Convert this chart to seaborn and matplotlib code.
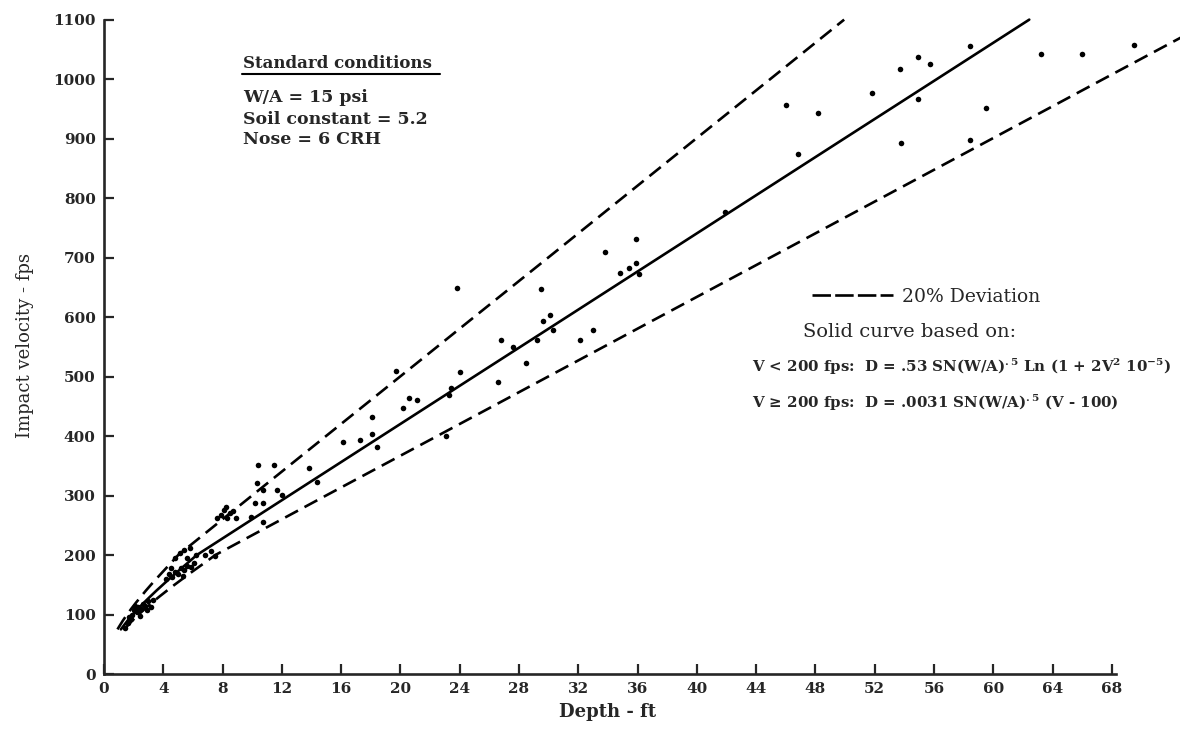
import matplotlib
matplotlib.use("Agg")
import matplotlib.pyplot as plt
import seaborn as sns
import pandas as pd
from matplotlib.lines import Line2D

# curves (velocity fps -> depth ft)
curve_v = [75, 80, 90, 100, 110, 120, 130, 140, 150, 160, 170, 180, 190, 200,
           300, 400, 500, 600, 700, 800, 900, 1000, 1100]
solid_d = [1.14, 1.29, 1.60, 1.95, 2.31, 2.70, 3.11, 3.53, 3.97, 4.41, 4.87, 5.33, 5.80, 6.26,
           12.49, 18.73, 24.97, 31.22, 37.46, 43.70, 49.94, 56.19, 62.43]
upper_d = [0.91, 1.03, 1.28, 1.56, 1.85, 2.16, 2.49, 2.82, 3.17, 3.53, 3.90, 4.27, 4.64, 5.01,
           9.99, 14.98, 19.98, 24.97, 29.97, 34.96, 39.95, 44.95, 49.94]
lower_d = [1.37, 1.54, 1.92, 2.34, 2.78, 3.24, 3.73, 4.24, 4.76, 5.30, 5.84, 6.40, 6.96, 7.51,
           14.98, 22.48, 29.97, 37.46, 44.95, 52.44, 59.93, 67.42, 74.92]

# test points
pt_depth = [1.4, 1.6, 1.8, 1.9, 2.0, 2.2, 2.3, 2.5, 2.6, 2.8, 3.0, 3.2, 2.4, 1.7, 2.9, 3.3, 2.1,
            4.2, 4.4, 4.6, 4.8, 5.0, 5.2, 5.4, 5.6, 5.9, 4.5, 5.3, 6.1,
            4.8, 5.1, 5.4, 5.8, 6.2, 5.6, 6.8, 7.2, 7.5,
            7.6, 7.9, 8.1, 8.3, 8.5, 8.7, 8.9, 8.2,
            10.4, 11.5, 10.3, 10.7, 10.2, 10.7, 11.7, 12.0, 9.9, 10.7,
            13.8, 14.4, 16.1, 17.3, 18.1, 18.1, 18.4, 19.7, 20.2, 20.6, 21.1, 23.1, 23.3, 23.4,
            23.8, 24.0, 26.6, 26.8, 27.6, 28.5, 29.2, 29.6, 29.5, 30.1, 30.3, 32.1, 33.0, 33.8,
            34.8, 35.4, 35.9, 35.9, 36.1,
            41.9, 46.0, 46.8, 48.2, 51.8, 53.7, 54.9, 55.7, 54.9, 53.8, 58.4, 59.5, 58.4,
            63.2, 66.0, 69.5]
pt_vel = [78, 85, 92, 100, 108, 104, 112, 110, 118, 115, 122, 112, 98, 95, 108, 125, 115,
          160, 168, 163, 172, 168, 178, 175, 182, 180, 178, 165, 186,
          195, 203, 208, 212, 200, 195, 200, 207, 198,
          262, 268, 276, 262, 270, 274, 262, 281,
          351, 351, 321, 309, 287, 287, 309, 301, 264, 256,
          346, 323, 390, 393, 432, 403, 382, 509, 447, 464, 460, 400, 469, 480,
          649, 508, 491, 561, 550, 522, 561, 593, 647, 603, 578, 561, 578, 709,
          674, 682, 691, 731, 672,
          776, 956, 874, 943, 977, 1017, 1037, 1025, 967, 893, 1056, 951, 898,
          1042, 1043, 1057]

x_ticks = list(range(0, 69, 4))
y_ticks = list(range(0, 1101, 100))

curves = pd.DataFrame({"v": curve_v, "solid": solid_d, "upper": upper_d, "lower": lower_d})
points = pd.DataFrame({"depth": pt_depth, "velocity": pt_vel})

sns.set_theme(style="ticks")
plt.rcParams["font.family"] = ["DejaVu Serif"]
plt.rcParams["mathtext.fontset"] = "dejavuserif"
plt.rcParams["mathtext.default"] = "bf"

fig = plt.figure(figsize=(11.8, 7.4), dpi=100)
ax = fig.add_axes([104 / 1180, 66 / 740, 1076 / 1180, 674 / 740])

dash = (5.5, 2.8)
sns.lineplot(data=curves, x="solid", y="v", sort=False, estimator=None, color="black", lw=1.9, ax=ax)
sns.lineplot(data=curves, x="upper", y="v", sort=False, estimator=None, color="black", lw=1.9,
             dashes=False, linestyle=(0, dash), ax=ax)
sns.lineplot(data=curves, x="lower", y="v", sort=False, estimator=None, color="black", lw=1.9,
             dashes=False, linestyle=(0, dash), ax=ax)
sns.scatterplot(data=points, x="depth", y="velocity", color="black", s=16, linewidth=0,
                ax=ax, clip_on=False, zorder=3)

ax.set_xlim(0, 72.6)
ax.set_ylim(0, 1133)
ax.set_xticks(x_ticks)
ax.set_yticks(y_ticks)
sns.despine(ax=ax)
ax.spines["left"].set_bounds(0, 1100)
ax.spines["bottom"].set_bounds(0, 68.3)
for s in ["left", "bottom"]:
    ax.spines[s].set_linewidth(1.9)
ax.tick_params(direction="in", length=7, width=1.6, labelsize=11, pad=6)
for lab in ax.get_xticklabels() + ax.get_yticklabels():
    lab.set_fontweight("bold")
ax.set_xlabel("")
ax.set_ylabel("")
ax.patch.set_alpha(0)

fig.text(25 / 1180, 1 - 345 / 740, "Impact velocity - fps", rotation=90, ha="center", va="center", fontsize=13)
fig.text(608 / 1180, 1 - 712 / 740, "Depth - ft", ha="center", va="center", fontsize=13, fontweight="bold")

# standard conditions box
fig.text(243 / 1180, 1 - 63 / 740, "Standard conditions", ha="left", va="center", fontsize=12, fontweight="bold")
fig.add_artist(Line2D([242 / 1180, 440 / 1180], [1 - 74 / 740, 1 - 74 / 740], color="black", lw=1.5,
                      transform=fig.transFigure))
for yy, txt in [(98, "W/A = 15 psi"), (119, "Soil constant = 5.2"), (140, "Nose = 6 CRH")]:
    fig.text(243 / 1180, 1 - yy / 740, txt, ha="left", va="center", fontsize=12.5, fontweight="bold")

# legend and formulas
handle = Line2D([], [], color="black", lw=1.9, dashes=(7, 1.6))
ax.legend([handle], ["20% Deviation"], loc="center left", frameon=False, handlelength=4.3,
          handletextpad=0.5, fontsize=13.5, bbox_to_anchor=(795 / 1180, 1 - 297 / 740),
          bbox_transform=fig.transFigure)
fig.text(803 / 1180, 1 - 332 / 740, "Solid curve based on:", ha="left", va="center", fontsize=14)
fig.text(752 / 1180, 1 - 367 / 740,
         r"V < 200 fps:  D = .53 SN(W/A)$^{.5}$ Ln (1 + 2V$^{2}$ 10$^{-5}$)",
         ha="left", va="center", fontsize=10.8, fontweight="bold")
fig.text(752 / 1180, 1 - 403 / 740,
         r"V ≥ 200 fps:  D = .0031 SN(W/A)$^{.5}$ (V - 100)",
         ha="left", va="center", fontsize=10.8, fontweight="bold")

plt.savefig("out.png", dpi=100)
